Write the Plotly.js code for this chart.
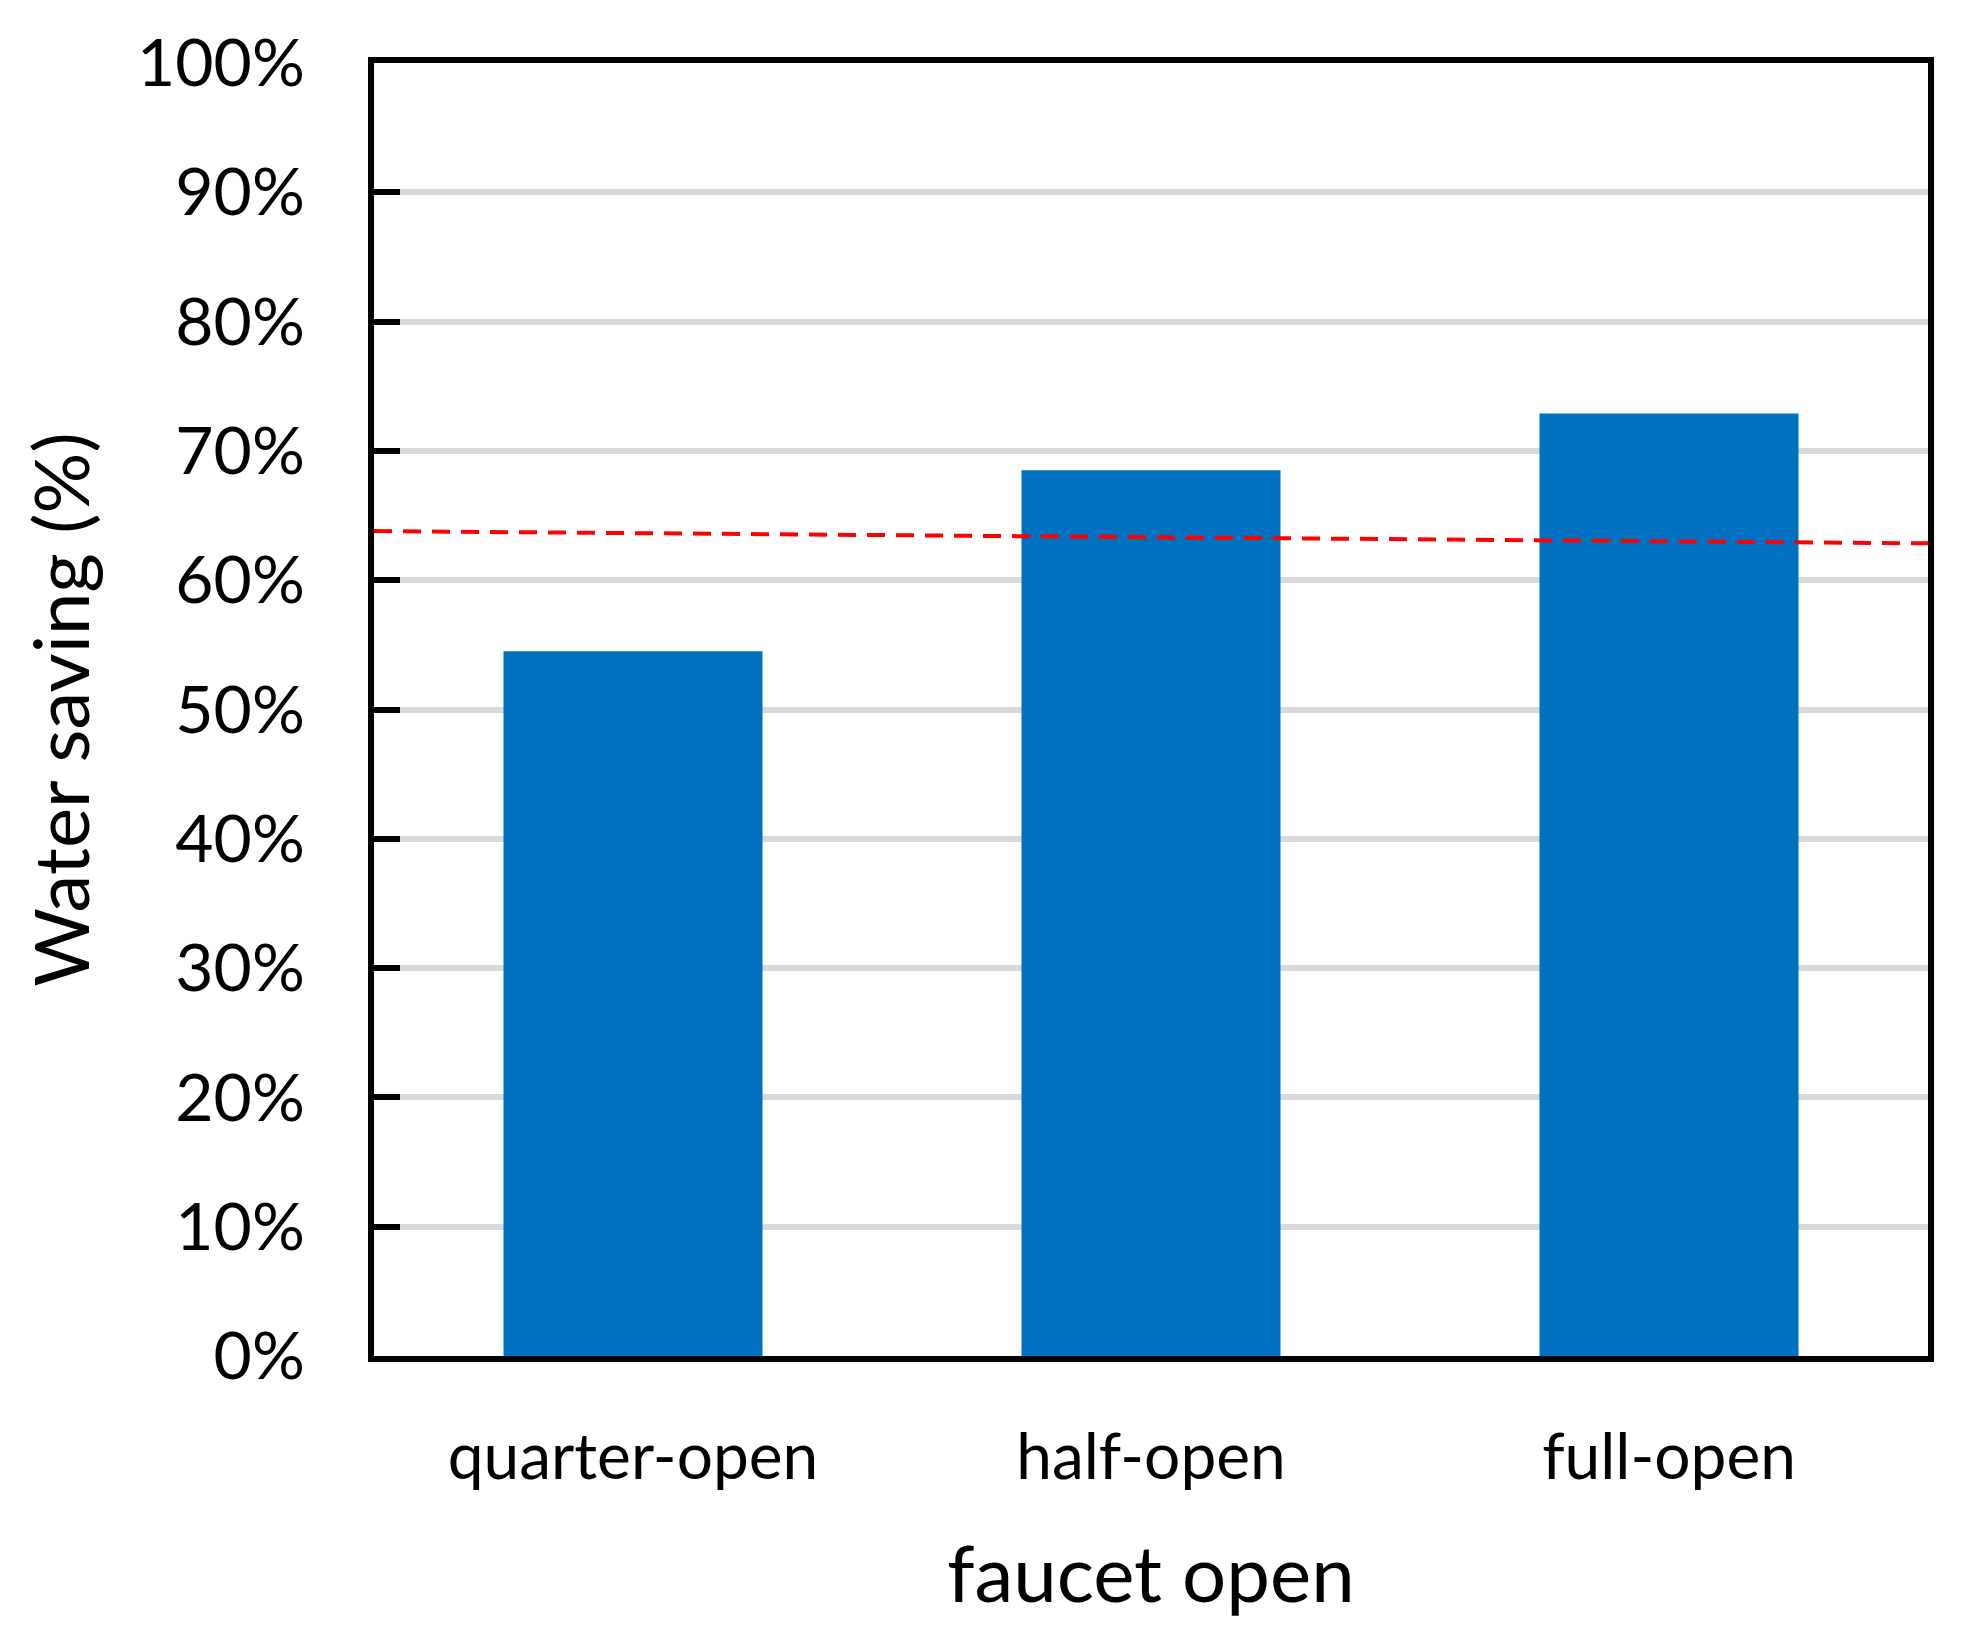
<!DOCTYPE html>
<html>
<head>
<meta charset="utf-8">
<script src="https://cdn.plot.ly/plotly-3.0.1.min.js"></script>
<style>
  html, body { margin: 0; padding: 0; background: #fff; }
  #chart { width: 1977px; height: 1644px; }
</style>
</head>
<body>
<div id="chart"></div>
<script>
  const categories = ["quarter-open", "half-open", "full-open"];
  const waterSaving = [0.545, 0.685, 0.729];
  const refLineX = [-0.5, 2.5];
  const refLineY = [0.638, 0.6285];
  const yTicks = [0, 0.1, 0.2, 0.3, 0.4, 0.5, 0.6, 0.7, 0.8, 0.9, 1.0];

  const font = "Lato, 'Open Sans', sans-serif";

  const bars = {
    type: "bar",
    x: categories.map((c, i) => i),
    y: waterSaving,
    marker: { color: "#0070C0" },
    width: 0.5,
    hoverinfo: "skip",
  };

  const refLine = {
    type: "scatter",
    mode: "lines",
    x: refLineX,
    y: refLineY,
    line: { color: "#FF0000", width: 4, dash: "18px,11px" },
    hoverinfo: "skip",
  };

  Plotly.newPlot("chart", [bars, refLine], {
    width: 1977,
    height: 1644,
    showlegend: false,
    paper_bgcolor: "#fff",
    plot_bgcolor: "#fff",
    margin: { l: 374, r: 49, t: 63, b: 288 },
    font: { family: font, color: "#000" },
    xaxis: {
      range: [-0.5, 2.5],
      tickvals: [0, 1, 2],
      ticktext: categories,
      tickfont: { size: 64, family: font },
      ticks: "",
      ticklabelstandoff: 40,
      showgrid: false,
      zeroline: false,
      showline: true,
      linecolor: "#000",
      linewidth: 6,
      mirror: true,
      title: { text: "faucet open", font: { size: 78, family: font }, standoff: 58 },
    },
    yaxis: {
      range: [0, 1],
      tickvals: yTicks,
      tickformat: ".0%",
      tickfont: { size: 66, family: font },
      ticks: "inside",
      ticklen: 26,
      tickwidth: 6,
      tickcolor: "#000",
      ticklabelstandoff: 50,
      showgrid: true,
      gridcolor: "#D9D9D9",
      gridwidth: 6,
      zeroline: false,
      showline: true,
      linecolor: "#000",
      linewidth: 6,
      mirror: true,
      title: { text: "Water saving (%)", font: { size: 76, family: font }, standoff: 24 },
    },
  }, { displayModeBar: false, staticPlot: true });
</script>
</body>
</html>
